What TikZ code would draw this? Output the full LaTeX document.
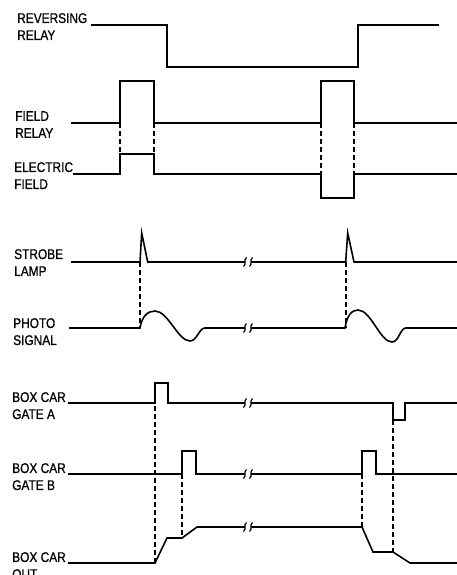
\documentclass[tikz,border=0pt]{standalone}
\usepackage{fontspec}
\setmainfont[FakeStretch=0.85,FakeBold=0.8]{Liberation Sans}
\usepackage{tikz}
\usetikzlibrary{calc}

\begin{document}
\begin{tikzpicture}[
  x=1pt, y=-1pt,
  font=\fontsize{14}{17}\selectfont,
  line join=miter,
  wave/.style={draw, line width=1.6pt},
  guide/.style={draw, line width=1.3pt, dash pattern=on 5pt off 3pt},
  tag/.style={anchor=north west, inner sep=0pt, align=left},
  brk/.pic={\draw[line width=1.2pt] (1.5,-4.5) .. controls (-2,-1.5) and (2,1.5) .. (-1.5,4.5);}
]
  \useasboundingbox (0,0) rectangle (457,575);

  % labels
  \node[tag] (rr) at (17,13) {REVERSING\\RELAY};
  \node[tag] (fr) at (15,111) {FIELD\\RELAY};
  \node[tag] (ef) at (14,162) {ELECTRIC\\FIELD};
  \node[tag] (sl) at (14,249) {STROBE\\LAMP};
  \node[tag] (ps) at (13,318) {PHOTO\\SIGNAL};
  \node[tag] (ga) at (12,392) {BOX CAR\\GATE A};
  \node[tag] (gb) at (12,463) {BOX CAR\\GATE B};
  \node[tag] (bo) at (12,552) {BOX CAR\\OUT};

  % relays and field
  \draw[wave] (91,25) -- (167,25) -- (167,67) -- (358,67) -- (358,25) -- (439,25);
  \draw[wave] (71,123) -- (120,123) -- (120,81) -- (154,81) -- (154,123) -- (321,123)
    -- (321,81) -- (354,81) -- (354,123) -- (457,123);
  \draw[wave] (73,174) -- (120,174) -- (120,154) -- (154,154) -- (154,174) -- (321,174)
    -- (321,198) -- (354,198) -- (354,174) -- (457,174);
  \path[guide] (120,123) -- (120,154);
  \path[guide] (154,123) -- (154,154);
  \path[guide] (321,123) -- (321,174);
  \path[guide] (354,123) -- (354,174);

  % strobe lamp
  \draw[wave] (71,262) -- (140,262) -- (141.7,233) -- (147.7,262) -- (245,262);
  \draw[wave] (251,262) -- (345.7,262) -- (347.7,233) -- (354,262) -- (457,262);
  \pic at (245,262) {brk};
  \pic at (251,262) {brk};

  % photo signal
  \draw[wave] (69,328) -- (140,328) .. controls (142,316) and (148,311) .. (155,311)
    .. controls (168,311) and (178,341) .. (190,341)
    .. controls (197,341) and (199,328) .. (205,328) -- (245,328);
  \draw[wave] (251,328) -- (345,328) .. controls (347,315) and (352,310) .. (358,310)
    .. controls (371,310) and (380,342) .. (392,342)
    .. controls (399,342) and (400,328) .. (406,328) -- (457,328);
  \pic at (245,328) {brk};
  \pic at (251,328) {brk};
  \path[guide] (140,262) -- (140,328);
  \path[guide] (346,262) -- (346,328);

  % box car gates
  \draw[wave] (68,403) -- (155,403) -- (155,383) -- (168,383) -- (168,403) -- (245,403);
  \draw[wave] (251,403) -- (393,403) -- (393,420) -- (405,420) -- (405,403) -- (457,403);
  \pic at (245,403) {brk};
  \pic at (251,403) {brk};
  \draw[wave] (68,474) -- (182,474) -- (182,451) -- (196,451) -- (196,474) -- (245,474);
  \draw[wave] (251,474) -- (362,474) -- (362,451) -- (376,451) -- (376,474) -- (457,474);
  \pic at (245,474) {brk};
  \pic at (251,474) {brk};

  % box car output
  \draw[wave] (68,563) -- (155,563) -- (167,538) -- (182,538) -- (197,527) -- (245,527);
  \draw[wave] (251,527) -- (362,527) -- (373,552) -- (393,552) -- (410,563) -- (457,563);
  \pic at (245,527) {brk};
  \pic at (251,527) {brk};
  \path[guide] (155,406) -- (155,563);
  \path[guide] (182,474) -- (182,538);
  \path[guide] (362,474) -- (362,527);
  \path[guide] (393,420) -- (393,552);
\end{tikzpicture}
\end{document}
